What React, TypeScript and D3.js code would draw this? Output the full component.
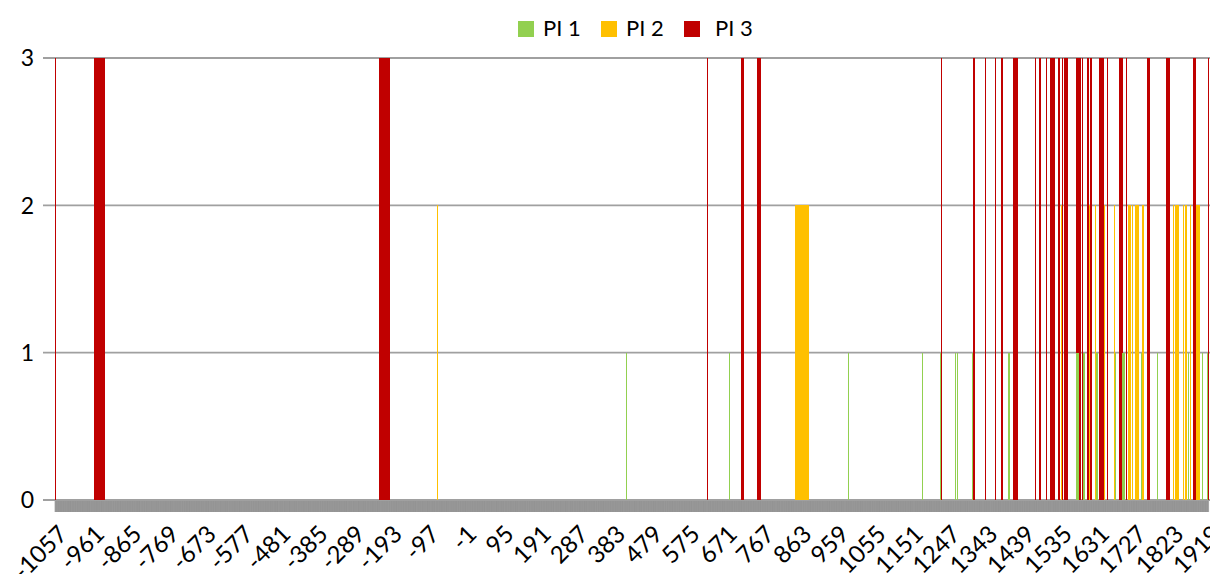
import React from 'react';
import * as d3 from 'd3';

const FIRST_YEAR = -1057;
const LAST_YEAR = 1919;
const tickLabels = [-1057, -961, -865, -769, -673, -577, -481, -385, -289, -193, -97, -1, 95, 191, 287, 383, 479, 575, 671, 767, 863, 959, 1055, 1151, 1247, 1343, 1439, 1535, 1631, 1727, 1823, 1919];
const yTicks = [0, 1, 2, 3];
const seriesNames = ['PI 1', 'PI 2', 'PI 3'];
const seriesColors = ['#92D050', '#FFC000', '#C00000'];
const seriesValues = [1, 2, 3];

// year spans [start, end] (inclusive) where each series is non-zero
const pi1Spans: [number, number][] = [
  [418, 418], [684, 684], [991, 991], [1182, 1182], [1228, 1228], [1267, 1267], [1272, 1272],
  [1310, 1310], [1403, 1408], [1579, 1586], [1596, 1601], [1631, 1635], [1678, 1678],
  [1698, 1705], [1746, 1746], [1786, 1786], [1866, 1866], [1904, 1904], [1916, 1916],
];
const pi2Spans: [number, number][] = [
  [-70, -70], [853, 889], [1539, 1539], [1612, 1612], [1628, 1628], [1651, 1651], [1677, 1677],
  [1712, 1718], [1723, 1723], [1731, 1741], [1749, 1754], [1829, 1829], [1834, 1844],
  [1855, 1855], [1860, 1865], [1873, 1873], [1887, 1896],
];
const pi3Spans: [number, number][] = [
  [-1057, -1057], [-956, -928], [-220, -192], [627, 627], [714, 721], [755, 765], [1231, 1231],
  [1313, 1318], [1344, 1344], [1368, 1368], [1385, 1390], [1416, 1429], [1473, 1473],
  [1483, 1488], [1502, 1502], [1511, 1522], [1533, 1537], [1542, 1542], [1548, 1558],
  [1579, 1582], [1584, 1591], [1594, 1594], [1607, 1611], [1615, 1620], [1638, 1650],
  [1659, 1659], [1688, 1697], [1708, 1708], [1762, 1769], [1811, 1821], [1880, 1886],
  [1919, 1919],
];
const seriesSpans = [pi1Spans, pi2Spans, pi3Spans];

const W = 1210;
const H = 574;
const FONT = 'Lato, Carlito, Calibri, sans-serif';

export default function App() {
  const categories = d3.range(FIRST_YEAR, LAST_YEAR + 1).map(String);
  const x = d3.scaleBand<string>().domain(categories).range([55, 1209]).padding(0);
  const y = d3.scaleLinear().domain([0, 3]).range([500, 58]);
  const step = x.step();

  const drawOrder = [2, 1, 0];

  return (
    <svg width={W} height={H} style={{ position: 'absolute', left: 0, top: 0, display: 'block', background: '#fff' }}>
      {/* gridlines */}
      {yTicks.map((t) => (
        <line key={'g' + t} x1={43} x2={W} y1={y(t)} y2={y(t)} stroke="#A0A0A0" strokeWidth={1.8} />
      ))}
      {/* category ticks */}
      <g>
        {categories.map((c) => (
          <line key={'t' + c} x1={x(c)!} x2={x(c)!} y1={501} y2={512} stroke="#6a6a6a" strokeWidth={0.4} />
        ))}
      </g>
      {/* bars */}
      {drawOrder.map((si) => (
        <g key={'s' + si} fill={seriesColors[si]}>
          {seriesSpans[si].map(([a, b]) => {
            const x0 = x(String(a))!;
            const x1 = x(String(b))! + step;
            const w = Math.max(x1 - x0, 1);
            return (
              <rect key={a} x={Math.floor(x0)} width={Math.max(Math.round(w), 1)} y={y(seriesValues[si])} height={y(0) - y(seriesValues[si])} shapeRendering="crispEdges" />
            );
          })}
        </g>
      ))}
      {/* y labels */}
      {yTicks.map((t) => (
        <text key={'y' + t} x={34} y={y(t)} dy="0.36em" textAnchor="end" fontFamily={FONT} fontSize={23} fill="#000">
          {t}
        </text>
      ))}
      {/* x labels */}
      {tickLabels.map((t) => {
        const cx = x(String(t))! + step / 2;
        return (
          <text key={'x' + t} transform={`translate(${cx + 1},${523}) rotate(-45)`} dy="0.74em" textAnchor="end" fontFamily={FONT} fontSize={24} fill="#000">
            {t}
          </text>
        );
      })}
      {/* legend */}
      {seriesNames.map((n, i) => {
        const lx = [518, 601, 684][i];
        const tx = [543, 626, 715][i];
        return (
          <g key={'l' + i}>
            <rect x={lx} y={21} width={16} height={16} fill={seriesColors[i]} />
            <text x={tx} y={36} fontFamily={FONT} fontSize={22} fill="#000">{n}</text>
          </g>
        );
      })}
    </svg>
  );
}
